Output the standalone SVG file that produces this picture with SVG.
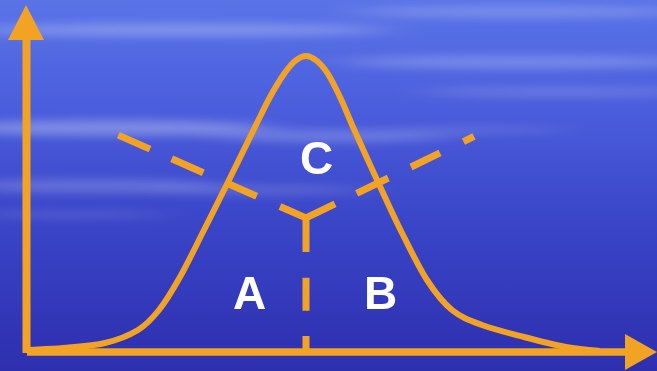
<svg xmlns="http://www.w3.org/2000/svg" width="657" height="371" viewBox="0 0 657 371">
  <defs>
    <linearGradient id="bg" x1="0" y1="0" x2="0" y2="1">
      <stop offset="0" stop-color="#5a74e8"/>
      <stop offset="0.3" stop-color="#4a5ddc"/>
      <stop offset="0.6" stop-color="#3a45c8"/>
      <stop offset="1" stop-color="#2d2fae"/>
    </linearGradient>
    <filter id="blur" x="-50%" y="-300%" width="200%" height="700%">
      <feGaussianBlur stdDeviation="24 5"/>
    </filter>
  </defs>
  <style>
    .or { stroke: #f2a323; fill: none; }
    .dash { stroke: #f2a323; stroke-width: 7; fill: none; stroke-linecap: butt; }
    .tri { fill: #f2a323; }
    .lbl { font-family: "Liberation Sans", Arial, sans-serif; font-weight: bold; font-size: 46px; fill: #ffffff; text-anchor: middle; }
    .streak { fill: #ffffff; filter: url(#blur); }
  </style>

  <g id="background">
    <rect x="0" y="0" width="657" height="371" fill="url(#bg)"/>
    <g class="streak">
      <ellipse cx="180" cy="30" rx="210" ry="7" opacity="0.25"/>
      <ellipse cx="520" cy="12" rx="170" ry="6" opacity="0.2"/>
      <ellipse cx="520" cy="62" rx="180" ry="7" opacity="0.22"/>
      <ellipse cx="560" cy="92" rx="140" ry="5" opacity="0.16"/>
      <ellipse cx="110" cy="128" rx="160" ry="8" opacity="0.3"/>
      <ellipse cx="330" cy="136" rx="120" ry="6" opacity="0.22"/>
      <ellipse cx="480" cy="130" rx="90" ry="4" opacity="0.12"/>
      <ellipse cx="90" cy="186" rx="130" ry="7" opacity="0.2"/>
      <ellipse cx="260" cy="190" rx="110" ry="5" opacity="0.15"/>
      <ellipse cx="70" cy="215" rx="100" ry="4" opacity="0.12"/>
    </g>
  </g>

  <g id="axes">
    <line class="or" x1="26.5" y1="38" x2="26.5" y2="353" stroke-width="8"/>
    <line class="or" x1="27" y1="352" x2="627" y2="352" stroke-width="7.5"/>
    <polygon class="tri" points="8,40 44,40 26,5"/>
    <polygon class="tri" points="625,334 625,370 657,352"/>
  </g>

  <g id="curve">
    <path class="or" stroke-width="6" stroke-linejoin="round" d="M25,350 C37.7,349.3 49.7,349.2 63,348 C76.3,346.8 92.5,346 105,343 C117.5,340 129,335.5 138,330 C147,324.5 152,318.8 159,310 C166,301.2 172.5,290.3 180,277 C187.5,263.7 196,245.8 204,230 C212,214.2 219.5,199.2 228,182 C236.5,164.8 248,141.2 255,127 C262,112.8 265.2,105.8 270,97 C274.8,88.2 279.8,80 284,74 C288.2,68 291.3,64 295,61 C298.7,58 302.3,56 306,56 C309.7,56 313.3,58 317,61 C320.7,64 324.2,68 328,74 C331.8,80 335.8,88.2 340,97 C344.2,105.8 346.7,112.8 353,127 C359.3,141.2 369.8,164.3 378,182 C386.2,199.7 393.8,216.7 402,233 C410.2,249.3 418.7,267.2 427,280 C435.3,292.8 442.8,302.5 452,310 C461.2,317.5 470,320.5 482,325 C494,329.5 510,333.3 524,337 C538,340.7 553.3,344.7 566,347 C578.7,349.3 588.7,349.7 600,351"/>
  </g>

  <g id="connectors">
    <path class="dash" d="M118.3,135.1 L150,149.1 M171.7,158.7 L203.3,172.7 M228.3,183.7 L256.7,196.2"/>
    <path class="dash" stroke-linejoin="miter" d="M280,206.5 L306,218 L335,203.9 M306,218 L306,252"/>
    <path class="dash" d="M356.7,193.4 L388.3,178 M411,167 L440,152.9 M463.5,141.7 L474,136.4"/>
    <path class="dash" stroke-width="8" d="M306,277.7 L306,310.7 M306,336 L306,352"/>
  </g>

  <g id="label-A"><text class="lbl" x="249.5" y="309">A</text></g>
  <g id="label-B"><text class="lbl" x="380.5" y="308.5">B</text></g>
  <g id="label-C"><text class="lbl" x="316.5" y="173.5">C</text></g>
</svg>
